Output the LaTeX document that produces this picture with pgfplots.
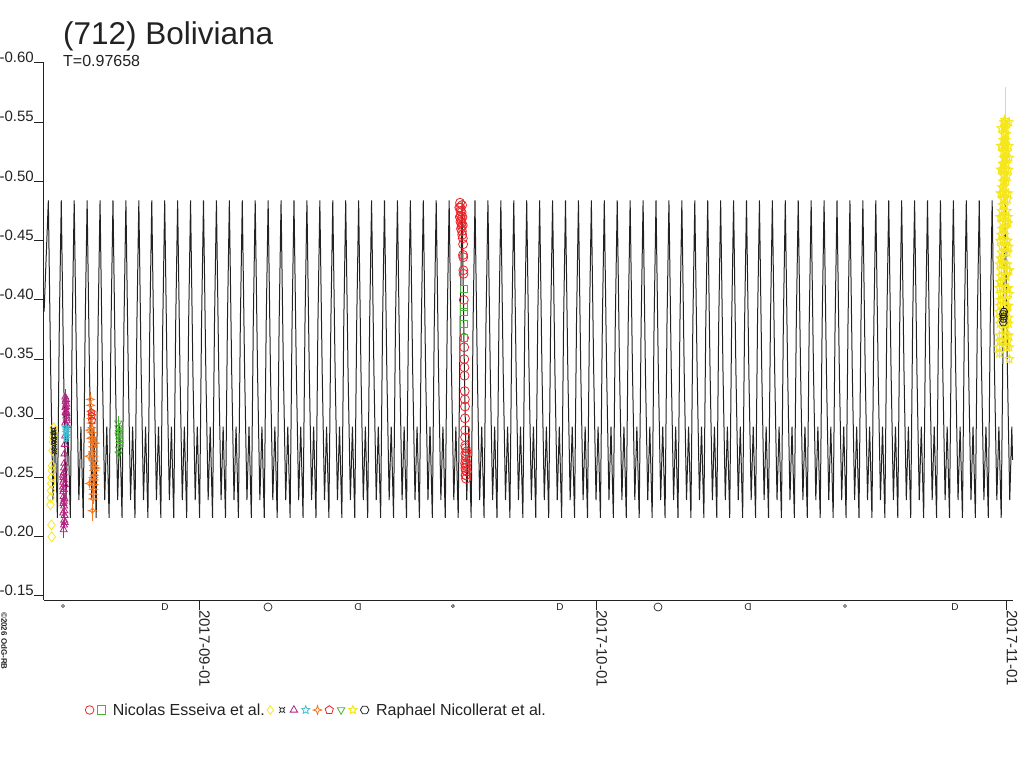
\documentclass[border=0pt]{standalone}
\usepackage{pgfplots}
\pgfplotsset{compat=1.18}
\usepackage{fontspec}
\setmainfont{Liberation Sans}
\usetikzlibrary{plotmarks}
\definecolor{cRed}{RGB}{236,36,40}
\definecolor{cGreen}{RGB}{76,178,56}
\definecolor{cYellow}{RGB}{246,230,30}
\definecolor{cMag}{RGB}{178,38,128}
\definecolor{cCyan}{RGB}{70,190,210}
\definecolor{cOrange}{RGB}{248,120,32}
\definecolor{cInk}{RGB}{34,34,34}
\pgfdeclareplotmark{fivestar}{%
  \pgfpathmoveto{\pgfpointpolar{90}{\pgfplotmarksize}}%
  \pgfpathlineto{\pgfpointpolar{126}{0.45\pgfplotmarksize}}%
  \pgfpathlineto{\pgfpointpolar{162}{\pgfplotmarksize}}%
  \pgfpathlineto{\pgfpointpolar{198}{0.45\pgfplotmarksize}}%
  \pgfpathlineto{\pgfpointpolar{234}{\pgfplotmarksize}}%
  \pgfpathlineto{\pgfpointpolar{270}{0.45\pgfplotmarksize}}%
  \pgfpathlineto{\pgfpointpolar{306}{\pgfplotmarksize}}%
  \pgfpathlineto{\pgfpointpolar{342}{0.45\pgfplotmarksize}}%
  \pgfpathlineto{\pgfpointpolar{18}{\pgfplotmarksize}}%
  \pgfpathlineto{\pgfpointpolar{54}{0.45\pgfplotmarksize}}%
  \pgfpathclose\pgfusepathqstroke}
\pgfdeclareplotmark{fourstar}{%
  \pgfpathmoveto{\pgfpointpolar{90}{\pgfplotmarksize}}%
  \pgfpathlineto{\pgfpointpolar{135}{0.35\pgfplotmarksize}}%
  \pgfpathlineto{\pgfpointpolar{180}{\pgfplotmarksize}}%
  \pgfpathlineto{\pgfpointpolar{225}{0.35\pgfplotmarksize}}%
  \pgfpathlineto{\pgfpointpolar{270}{\pgfplotmarksize}}%
  \pgfpathlineto{\pgfpointpolar{315}{0.35\pgfplotmarksize}}%
  \pgfpathlineto{\pgfpointpolar{0}{\pgfplotmarksize}}%
  \pgfpathlineto{\pgfpointpolar{45}{0.35\pgfplotmarksize}}%
  \pgfpathclose\pgfusepathqstroke}
\pgfdeclareplotmark{hexagon}{%
  \pgfpathmoveto{\pgfpointpolar{0}{\pgfplotmarksize}}%
  \pgfpathlineto{\pgfpointpolar{60}{\pgfplotmarksize}}%
  \pgfpathlineto{\pgfpointpolar{120}{\pgfplotmarksize}}%
  \pgfpathlineto{\pgfpointpolar{180}{\pgfplotmarksize}}%
  \pgfpathlineto{\pgfpointpolar{240}{\pgfplotmarksize}}%
  \pgfpathlineto{\pgfpointpolar{300}{\pgfplotmarksize}}%
  \pgfpathclose\pgfusepathqstroke}
\pgfdeclareplotmark{currency}{%
  \pgfpathcircle{\pgfpointorigin}{0.5\pgfplotmarksize}%
  \pgfpathmoveto{\pgfpointpolar{45}{0.5\pgfplotmarksize}}\pgfpathlineto{\pgfpointpolar{45}{\pgfplotmarksize}}%
  \pgfpathmoveto{\pgfpointpolar{135}{0.5\pgfplotmarksize}}\pgfpathlineto{\pgfpointpolar{135}{\pgfplotmarksize}}%
  \pgfpathmoveto{\pgfpointpolar{225}{0.5\pgfplotmarksize}}\pgfpathlineto{\pgfpointpolar{225}{\pgfplotmarksize}}%
  \pgfpathmoveto{\pgfpointpolar{315}{0.5\pgfplotmarksize}}\pgfpathlineto{\pgfpointpolar{315}{\pgfplotmarksize}}%
  \pgfusepathqstroke}
\begin{document}
\begin{tikzpicture}
\path[use as bounding box] (0pt,0pt) rectangle (1024pt,768pt);
\node[anchor=base west, inner sep=0pt, font=\fontsize{31.5}{31.5}\selectfont, text=cInk] at (63pt,723pt) {(712) Boliviana};
\node[anchor=base west, inner sep=0pt, font=\fontsize{16}{16}\selectfont, text=cInk] at (63pt,701pt) {T=0.97658};
\node[rotate=-90, anchor=south west, inner sep=0pt, font=\fontsize{8}{8}\selectfont\bfseries, text=cInk] at (1pt,156pt) {©2026 OdG-RB};
\begin{axis}[
  at={(44pt,168pt)}, anchor=south west,
  scale only axis, width=969pt, height=537pt,
  xmin=-11.708, xmax=61.485, ymin=-0.600, ymax=-0.1466, y dir=reverse,
  axis x line*=bottom, axis y line*=left,
  xtick={0,30,61}, xticklabels={2017-09-01,2017-10-01,2017-11-01},
  ytick={-0.6,-0.55,-0.5,-0.45,-0.4,-0.35,-0.3,-0.25,-0.2,-0.15},
  yticklabels={-0.60,-0.55,-0.50,-0.45,-0.40,-0.35,-0.30,-0.25,-0.20,-0.15},
  tick align=outside, major tick length=10pt, minor tick num=0,
  xticklabel style={rotate=-90, anchor=south west, inner sep=0pt, font=\fontsize{15}{15}\selectfont, text=cInk},
  yticklabel style={anchor=south east, inner sep=0pt, font=\fontsize{15}{15}\selectfont, text=cInk},
  axis line style={cInk, line width=1pt}, tick style={cInk, line width=1pt},
  clip=false,
  legend style={at={(0.0413,-0.2048)}, anchor=west, draw=none, fill=none,
    legend columns=-1, font=\fontsize{16}{16}\selectfont, text=cInk,
    inner xsep=0pt, inner ysep=0pt, nodes={inner sep=0pt},
    /tikz/column sep=0pt},
  legend image code/.code={\path (-5.2pt,0pt) (5.2pt,0pt); \draw[#1, mark size=4.3pt] plot coordinates {(0pt,0pt)};},
  error bars/error bar style={line width=0.7pt},
  error bars/error mark=none,
]
% Nicolas Esseiva et al.
\addplot[only marks, mark=o, mark size=4.5pt, cRed, mark options={line width=0.8pt}] coordinates {
(19.66,-0.478) (19.70,-0.470) (19.72,-0.482) (19.74,-0.478) (19.76,-0.475) (19.78,-0.471) (19.80,-0.468)
(19.82,-0.465) (19.84,-0.462) (19.86,-0.458) (19.88,-0.455) (19.75,-0.466) (19.79,-0.460) (19.83,-0.474)
(19.87,-0.480) (19.90,-0.470) (19.92,-0.463) (19.93,-0.452) (19.95,-0.447) (19.94,-0.438) (19.96,-0.436)
(19.97,-0.425) (19.98,-0.422) (20.00,-0.400) (20.02,-0.368) (20.03,-0.360) (20.04,-0.350) (20.05,-0.343)
(20.06,-0.336) (20.07,-0.323) (20.08,-0.316) (20.09,-0.300) (20.10,-0.284) (20.11,-0.277) (20.12,-0.270)
(20.13,-0.265) (20.14,-0.260) (20.15,-0.256) (20.16,-0.252) (20.17,-0.249) (20.12,-0.258) (20.14,-0.275)
(20.10,-0.262) (20.16,-0.268) (20.13,-0.252) (20.11,-0.290) (20.09,-0.310) (20.22,-0.262) (20.24,-0.255)
(20.20,-0.272)
};
\addlegendentry{}
\addplot[only marks, mark=square, mark size=3.4pt, cGreen, mark options={line width=0.8pt}] coordinates {
(19.98,-0.409) (20.00,-0.394) (20.01,-0.390) (20.03,-0.380) (20.05,-0.368)
};
\addlegendentry{\hspace{6pt}Nicolas Esseiva et al.}
% Raphael Nicollerat et al.
\addplot[only marks, mark=diamond, mark size=5pt, cYellow, mark options={line width=0.8pt}] coordinates {
(-10.98,-0.292) (-11.00,-0.288) (-11.02,-0.284) (-11.04,-0.280) (-11.06,-0.273) (-11.10,-0.260)
(-11.12,-0.256) (-11.14,-0.250) (-11.16,-0.245) (-11.18,-0.239) (-11.20,-0.233) (-11.22,-0.227)
(-11.15,-0.210) (-11.13,-0.200)
};
\addlegendentry{}
\addplot[only marks, mark=currency, mark size=3.8pt, cInk, mark options={line width=0.8pt}] coordinates {
(-11.00,-0.290) (-10.98,-0.285) (-10.96,-0.280) (-10.94,-0.276) (-10.92,-0.272) (-10.97,-0.288) (-10.93,-0.282)
};
\addlegendentry{}
\addplot[only marks, mark=triangle, mark size=4pt, cMag, mark options={line width=0.8pt},
  error bars/.cd, y dir=both, y explicit] coordinates {
(-10.10,-0.318) +- (0,0.007) (-10.08,-0.314) +- (0,0.003) (-10.06,-0.310) +- (0,0.003) (-10.04,-0.306) +- (0,0.003)
(-10.02,-0.302) +- (0,0.003) (-10.00,-0.298) +- (0,0.003) (-9.98,-0.294) +- (0,0.003) (-10.07,-0.305) +- (0,0.003)
(-10.03,-0.312) +- (0,0.003) (-9.99,-0.300) +- (0,0.003) (-10.12,-0.285) +- (0,0.003) (-10.14,-0.278) +- (0,0.003)
(-10.16,-0.270) +- (0,0.003) (-10.18,-0.262) +- (0,0.003) (-10.20,-0.258) +- (0,0.003) (-10.22,-0.254) +- (0,0.003)
(-10.24,-0.250) +- (0,0.003) (-10.26,-0.246) +- (0,0.003) (-10.28,-0.242) +- (0,0.003) (-10.25,-0.238) +- (0,0.003)
(-10.23,-0.234) +- (0,0.003) (-10.21,-0.230) +- (0,0.003) (-10.19,-0.226) +- (0,0.003) (-10.17,-0.222) +- (0,0.003)
(-10.15,-0.218) +- (0,0.003) (-10.18,-0.214) +- (0,0.003) (-10.20,-0.210) +- (0,0.003) (-10.22,-0.206) +- (0,0.007)
(-10.27,-0.252) +- (0,0.003) (-10.13,-0.244) +- (0,0.003) (-10.05,-0.316) +- (0,0.003) (-10.09,-0.309) +- (0,0.003)
(-10.01,-0.304) +- (0,0.003) (-10.11,-0.296) +- (0,0.003) (-10.24,-0.228) +- (0,0.003) (-10.16,-0.232) +- (0,0.003)
(-10.26,-0.220) +- (0,0.003) (-10.14,-0.212) +- (0,0.003) (-10.21,-0.240) +- (0,0.003) (-10.19,-0.248) +- (0,0.003)
};
\addlegendentry{}
\addplot[only marks, mark=fivestar, mark size=3.8pt, cCyan, mark options={line width=0.8pt},
  error bars/.cd, y dir=both, y fixed=0.004] coordinates {
(-10.05,-0.292) (-10.03,-0.288) (-10.01,-0.285) (-10.04,-0.283) (-10.02,-0.290)
};
\addlegendentry{}
\addplot[only marks, mark=fourstar, mark size=4pt, cOrange, mark options={line width=0.8pt},
  error bars/.cd, y dir=both, y explicit] coordinates {
(-8.20,-0.316) +- (0,0.006) (-8.18,-0.311) +- (0,0.004) (-8.16,-0.306) +- (0,0.004) (-8.14,-0.300) +- (0,0.004)
(-8.12,-0.296) +- (0,0.004) (-8.10,-0.292) +- (0,0.004) (-8.08,-0.288) +- (0,0.004) (-8.06,-0.284) +- (0,0.004)
(-8.04,-0.280) +- (0,0.004) (-8.02,-0.276) +- (0,0.004) (-8.00,-0.272) +- (0,0.004) (-7.98,-0.268) +- (0,0.004)
(-7.96,-0.264) +- (0,0.004) (-7.94,-0.260) +- (0,0.004) (-7.92,-0.256) +- (0,0.004) (-7.90,-0.252) +- (0,0.004)
(-7.92,-0.248) +- (0,0.004) (-7.94,-0.244) +- (0,0.004) (-7.96,-0.240) +- (0,0.004) (-7.98,-0.236) +- (0,0.004)
(-8.00,-0.232) +- (0,0.004) (-8.05,-0.222) +- (0,0.009) (-8.25,-0.290) +- (0,0.004) (-8.11,-0.303) +- (0,0.004)
(-7.85,-0.279) +- (0,0.004) (-8.30,-0.268) +- (0,0.004) (-7.80,-0.258) +- (0,0.004) (-8.13,-0.283) +- (0,0.004)
(-7.99,-0.250) +- (0,0.004) (-8.27,-0.245) +- (0,0.004)
};
\addlegendentry{}
\addplot[only marks, mark=pentagon, mark size=3.8pt, cRed, mark options={line width=0.8pt}] coordinates {
(-8.10,-0.302) (-8.08,-0.298) (-8.12,-0.305)
};
\addlegendentry{}
\addplot[only marks, mark=triangle, mark size=4pt, cGreen, mark options={line width=0.8pt, rotate=180},
  error bars/.cd, y dir=both, y fixed=0.006] coordinates {
(-6.10,-0.296) (-6.08,-0.292) (-6.06,-0.288) (-6.04,-0.284) (-6.02,-0.281) (-6.00,-0.278)
(-6.05,-0.274) (-6.07,-0.270) (-6.03,-0.290) (-6.09,-0.286)
};
\addlegendentry{}
\addplot[only marks, mark=fivestar, mark size=4.4pt, cYellow, mark options={line width=1pt},
  error bars/.cd, y dir=both, y explicit] coordinates {
(60.45,-0.355) +- (0,0.004) (60.47,-0.370) +- (0,0.004) (60.49,-0.380) +- (0,0.004) (60.51,-0.395) +- (0,0.004)
(60.53,-0.400) +- (0,0.004) (60.55,-0.415) +- (0,0.004) (60.57,-0.420) +- (0,0.004) (60.59,-0.435) +- (0,0.004)
(60.61,-0.440) +- (0,0.004) (60.63,-0.455) +- (0,0.004) (60.65,-0.460) +- (0,0.004) (60.67,-0.470) +- (0,0.004)
(60.69,-0.480) +- (0,0.004) (60.71,-0.490) +- (0,0.004) (60.73,-0.500) +- (0,0.004) (60.75,-0.505) +- (0,0.004)
(60.77,-0.515) +- (0,0.004) (60.79,-0.520) +- (0,0.004) (60.81,-0.530) +- (0,0.004) (60.83,-0.535) +- (0,0.004)
(60.85,-0.545) +- (0,0.004) (60.87,-0.550) +- (0,0.004) (60.89,-0.540) +- (0,0.004) (60.91,-0.530) +- (0,0.004)
(60.93,-0.520) +- (0,0.004) (60.95,-0.510) +- (0,0.004) (60.97,-0.500) +- (0,0.004) (60.99,-0.490) +- (0,0.004)
(61.01,-0.475) +- (0,0.004) (61.03,-0.465) +- (0,0.004) (61.05,-0.450) +- (0,0.004) (61.07,-0.440) +- (0,0.004)
(61.09,-0.425) +- (0,0.004) (61.11,-0.410) +- (0,0.004) (61.13,-0.395) +- (0,0.004) (61.15,-0.380) +- (0,0.004)
(61.17,-0.370) +- (0,0.004) (61.19,-0.360) +- (0,0.004) (61.21,-0.350) +- (0,0.004)
(60.80,-0.485) +- (0,0.004) (60.84,-0.455) +- (0,0.004) (60.88,-0.430) +- (0,0.004) (60.90,-0.410) +- (0,0.004)
(60.86,-0.390) +- (0,0.004) (60.82,-0.375) +- (0,0.004) (60.78,-0.460) +- (0,0.004) (60.92,-0.470) +- (0,0.004)
(60.96,-0.445) +- (0,0.004) (60.74,-0.430) +- (0,0.004) (60.70,-0.400) +- (0,0.004) (61.00,-0.420) +- (0,0.004)
(61.04,-0.395) +- (0,0.004) (60.68,-0.365) +- (0,0.004) (60.94,-0.545) +- (0,0.004) (60.76,-0.535) +- (0,0.004)
(60.86,-0.552) +- (0,0.004) (60.88,-0.530) +- (0,0.050)
(60.42,-0.360) +- (0,0.004) (60.44,-0.390) +- (0,0.004) (60.46,-0.410) +- (0,0.004) (60.48,-0.430) +- (0,0.004)
(60.50,-0.450) +- (0,0.004) (60.52,-0.470) +- (0,0.004) (60.54,-0.490) +- (0,0.004) (60.56,-0.510) +- (0,0.004)
(60.58,-0.530) +- (0,0.004) (60.60,-0.545) +- (0,0.004) (60.62,-0.530) +- (0,0.004) (60.64,-0.510) +- (0,0.004)
(60.66,-0.490) +- (0,0.004) (60.68,-0.470) +- (0,0.004) (60.70,-0.450) +- (0,0.004) (60.72,-0.470) +- (0,0.004)
(60.74,-0.490) +- (0,0.004) (60.76,-0.510) +- (0,0.004) (60.78,-0.530) +- (0,0.004) (60.80,-0.550) +- (0,0.004)
(60.82,-0.520) +- (0,0.004) (60.84,-0.500) +- (0,0.004) (60.86,-0.480) +- (0,0.004) (60.88,-0.460) +- (0,0.004)
(60.90,-0.440) +- (0,0.004) (60.92,-0.420) +- (0,0.004) (60.94,-0.400) +- (0,0.004) (60.96,-0.380) +- (0,0.004)
(60.98,-0.360) +- (0,0.004) (61.00,-0.370) +- (0,0.004) (61.02,-0.390) +- (0,0.004) (61.04,-0.410) +- (0,0.004)
(61.06,-0.430) +- (0,0.004) (61.08,-0.450) +- (0,0.004) (61.10,-0.470) +- (0,0.004) (61.12,-0.490) +- (0,0.004)
(61.14,-0.510) +- (0,0.004) (61.16,-0.530) +- (0,0.004) (61.18,-0.550) +- (0,0.004) (61.20,-0.520) +- (0,0.004)
(60.48,-0.365) +- (0,0.004) (60.52,-0.385) +- (0,0.004) (60.56,-0.405) +- (0,0.004) (60.60,-0.425) +- (0,0.004)
(60.64,-0.445) +- (0,0.004) (60.68,-0.465) +- (0,0.004) (60.72,-0.485) +- (0,0.004) (60.76,-0.495) +- (0,0.004)
(60.80,-0.505) +- (0,0.004) (60.84,-0.515) +- (0,0.004) (60.88,-0.525) +- (0,0.004) (60.92,-0.535) +- (0,0.004)
(60.96,-0.540) +- (0,0.004) (61.00,-0.525) +- (0,0.004) (61.04,-0.505) +- (0,0.004) (61.08,-0.485) +- (0,0.004)
(61.12,-0.465) +- (0,0.004) (61.16,-0.445) +- (0,0.004) (61.20,-0.425) +- (0,0.004) (61.18,-0.405) +- (0,0.004)
(61.14,-0.385) +- (0,0.004) (61.10,-0.365) +- (0,0.004) (60.50,-0.415) +- (0,0.004) (60.54,-0.435) +- (0,0.004)
(60.58,-0.455) +- (0,0.004) (60.62,-0.475) +- (0,0.004) (60.66,-0.495) +- (0,0.004) (60.70,-0.515) +- (0,0.004)
(60.74,-0.525) +- (0,0.004) (60.78,-0.540) +- (0,0.004) (60.90,-0.548) +- (0,0.004) (60.98,-0.515) +- (0,0.004)
};
\addlegendentry{}
\addplot[only marks, mark=hexagon, mark size=3.8pt, cInk, mark options={line width=0.8pt}] coordinates {
(60.74,-0.388) (60.76,-0.384) (60.78,-0.386) (60.80,-0.390) (60.75,-0.381)
};
\addlegendentry{\hspace{6pt}Raphael Nicollerat et al.}
% model lightcurve
\addplot[forget plot, cInk, line width=1pt, mark=none] coordinates {
(-11.700,-0.390)
(-11.380,-0.484) (-11.204,-0.34) (-11.028,-0.231) (-10.872,-0.293) (-10.696,-0.216) (-10.550,-0.38)
(-10.403,-0.484) (-10.227,-0.34) (-10.051,-0.231) (-9.895,-0.293) (-9.719,-0.216) (-9.573,-0.38)
(-9.427,-0.484) (-9.251,-0.34) (-9.075,-0.231) (-8.919,-0.293) (-8.743,-0.216) (-8.597,-0.38)
(-8.450,-0.484) (-8.274,-0.34) (-8.098,-0.231) (-7.942,-0.293) (-7.766,-0.216) (-7.620,-0.38)
(-7.474,-0.484) (-7.298,-0.34) (-7.122,-0.231) (-6.966,-0.293) (-6.790,-0.216) (-6.644,-0.38)
(-6.497,-0.484) (-6.321,-0.34) (-6.145,-0.231) (-5.989,-0.293) (-5.813,-0.216) (-5.667,-0.38)
(-5.521,-0.484) (-5.345,-0.34) (-5.169,-0.231) (-5.013,-0.293) (-4.837,-0.216) (-4.691,-0.38)
(-4.544,-0.484) (-4.368,-0.34) (-4.192,-0.231) (-4.036,-0.293) (-3.860,-0.216) (-3.714,-0.38)
(-3.567,-0.484) (-3.391,-0.34) (-3.215,-0.231) (-3.059,-0.293) (-2.883,-0.216) (-2.737,-0.38)
(-2.591,-0.484) (-2.415,-0.34) (-2.239,-0.231) (-2.083,-0.293) (-1.907,-0.216) (-1.761,-0.38)
(-1.614,-0.484) (-1.438,-0.34) (-1.262,-0.231) (-1.106,-0.293) (-0.930,-0.216) (-0.784,-0.38)
(-0.638,-0.484) (-0.462,-0.34) (-0.286,-0.231) (-0.130,-0.293) (0.046,-0.216) (0.192,-0.38)
(0.339,-0.484) (0.515,-0.34) (0.691,-0.231) (0.847,-0.293) (1.023,-0.216) (1.169,-0.38)
(1.316,-0.484) (1.492,-0.34) (1.668,-0.231) (1.824,-0.293) (2.000,-0.216) (2.146,-0.38)
(2.292,-0.484) (2.468,-0.34) (2.644,-0.231) (2.800,-0.293) (2.976,-0.216) (3.122,-0.38)
(3.269,-0.484) (3.445,-0.34) (3.621,-0.231) (3.777,-0.293) (3.953,-0.216) (4.099,-0.38)
(4.245,-0.484) (4.421,-0.34) (4.597,-0.231) (4.753,-0.293) (4.929,-0.216) (5.075,-0.38)
(5.222,-0.484) (5.398,-0.34) (5.574,-0.231) (5.730,-0.293) (5.906,-0.216) (6.052,-0.38)
(6.198,-0.484) (6.374,-0.34) (6.550,-0.231) (6.706,-0.293) (6.882,-0.216) (7.028,-0.38)
(7.175,-0.484) (7.351,-0.34) (7.527,-0.231) (7.683,-0.293) (7.859,-0.216) (8.005,-0.38)
(8.152,-0.484) (8.328,-0.34) (8.504,-0.231) (8.660,-0.293) (8.836,-0.216) (8.982,-0.38)
(9.128,-0.484) (9.304,-0.34) (9.480,-0.231) (9.636,-0.293) (9.812,-0.216) (9.958,-0.38)
(10.105,-0.484) (10.281,-0.34) (10.457,-0.231) (10.613,-0.293) (10.789,-0.216) (10.935,-0.38)
(11.081,-0.484) (11.257,-0.34) (11.433,-0.231) (11.589,-0.293) (11.765,-0.216) (11.911,-0.38)
(12.058,-0.484) (12.234,-0.34) (12.410,-0.231) (12.566,-0.293) (12.742,-0.216) (12.888,-0.38)
(13.035,-0.484) (13.211,-0.34) (13.387,-0.231) (13.543,-0.293) (13.719,-0.216) (13.865,-0.38)
(14.011,-0.484) (14.187,-0.34) (14.363,-0.231) (14.519,-0.293) (14.695,-0.216) (14.841,-0.38)
(14.988,-0.484) (15.164,-0.34) (15.340,-0.231) (15.496,-0.293) (15.672,-0.216) (15.818,-0.38)
(15.964,-0.484) (16.140,-0.34) (16.316,-0.231) (16.472,-0.293) (16.648,-0.216) (16.794,-0.38)
(16.941,-0.484) (17.117,-0.34) (17.293,-0.231) (17.449,-0.293) (17.625,-0.216) (17.771,-0.38)
(17.917,-0.484) (18.093,-0.34) (18.269,-0.231) (18.425,-0.293) (18.601,-0.216) (18.747,-0.38)
(18.894,-0.484) (19.070,-0.34) (19.246,-0.231) (19.402,-0.293) (19.578,-0.216) (19.724,-0.38)
(19.871,-0.484) (20.047,-0.34) (20.223,-0.231) (20.379,-0.293) (20.555,-0.216) (20.701,-0.38)
(20.847,-0.484) (21.023,-0.34) (21.199,-0.231) (21.355,-0.293) (21.531,-0.216) (21.677,-0.38)
(21.824,-0.484) (22.000,-0.34) (22.176,-0.231) (22.332,-0.293) (22.508,-0.216) (22.654,-0.38)
(22.800,-0.484) (22.976,-0.34) (23.152,-0.231) (23.308,-0.293) (23.484,-0.216) (23.630,-0.38)
(23.777,-0.484) (23.953,-0.34) (24.129,-0.231) (24.285,-0.293) (24.461,-0.216) (24.607,-0.38)
(24.753,-0.484) (24.929,-0.34) (25.105,-0.231) (25.261,-0.293) (25.437,-0.216) (25.583,-0.38)
(25.730,-0.484) (25.906,-0.34) (26.082,-0.231) (26.238,-0.293) (26.414,-0.216) (26.560,-0.38)
(26.707,-0.484) (26.883,-0.34) (27.059,-0.231) (27.215,-0.293) (27.391,-0.216) (27.537,-0.38)
(27.683,-0.484) (27.859,-0.34) (28.035,-0.231) (28.191,-0.293) (28.367,-0.216) (28.513,-0.38)
(28.660,-0.484) (28.836,-0.34) (29.012,-0.231) (29.168,-0.293) (29.344,-0.216) (29.490,-0.38)
(29.636,-0.484) (29.812,-0.34) (29.988,-0.231) (30.144,-0.293) (30.320,-0.216) (30.466,-0.38)
(30.613,-0.484) (30.789,-0.34) (30.965,-0.231) (31.121,-0.293) (31.297,-0.216) (31.443,-0.38)
(31.590,-0.484) (31.766,-0.34) (31.942,-0.231) (32.098,-0.293) (32.274,-0.216) (32.420,-0.38)
(32.566,-0.484) (32.742,-0.34) (32.918,-0.231) (33.074,-0.293) (33.250,-0.216) (33.396,-0.38)
(33.543,-0.484) (33.719,-0.34) (33.895,-0.231) (34.051,-0.293) (34.227,-0.216) (34.373,-0.38)
(34.519,-0.484) (34.695,-0.34) (34.871,-0.231) (35.027,-0.293) (35.203,-0.216) (35.349,-0.38)
(35.496,-0.484) (35.672,-0.34) (35.848,-0.231) (36.004,-0.293) (36.180,-0.216) (36.326,-0.38)
(36.472,-0.484) (36.648,-0.34) (36.824,-0.231) (36.980,-0.293) (37.156,-0.216) (37.302,-0.38)
(37.449,-0.484) (37.625,-0.34) (37.801,-0.231) (37.957,-0.293) (38.133,-0.216) (38.279,-0.38)
(38.426,-0.484) (38.602,-0.34) (38.778,-0.231) (38.934,-0.293) (39.110,-0.216) (39.256,-0.38)
(39.402,-0.484) (39.578,-0.34) (39.754,-0.231) (39.910,-0.293) (40.086,-0.216) (40.232,-0.38)
(40.379,-0.484) (40.555,-0.34) (40.731,-0.231) (40.887,-0.293) (41.063,-0.216) (41.209,-0.38)
(41.355,-0.484) (41.531,-0.34) (41.707,-0.231) (41.863,-0.293) (42.039,-0.216) (42.185,-0.38)
(42.332,-0.484) (42.508,-0.34) (42.684,-0.231) (42.840,-0.293) (43.016,-0.216) (43.162,-0.38)
(43.308,-0.484) (43.484,-0.34) (43.660,-0.231) (43.816,-0.293) (43.992,-0.216) (44.138,-0.38)
(44.285,-0.484) (44.461,-0.34) (44.637,-0.231) (44.793,-0.293) (44.969,-0.216) (45.115,-0.38)
(45.262,-0.484) (45.438,-0.34) (45.614,-0.231) (45.770,-0.293) (45.946,-0.216) (46.092,-0.38)
(46.238,-0.484) (46.414,-0.34) (46.590,-0.231) (46.746,-0.293) (46.922,-0.216) (47.068,-0.38)
(47.215,-0.484) (47.391,-0.34) (47.567,-0.231) (47.723,-0.293) (47.899,-0.216) (48.045,-0.38)
(48.191,-0.484) (48.367,-0.34) (48.543,-0.231) (48.699,-0.293) (48.875,-0.216) (49.021,-0.38)
(49.168,-0.484) (49.344,-0.34) (49.520,-0.231) (49.676,-0.293) (49.852,-0.216) (49.998,-0.38)
(50.145,-0.484) (50.321,-0.34) (50.497,-0.231) (50.653,-0.293) (50.829,-0.216) (50.975,-0.38)
(51.121,-0.484) (51.297,-0.34) (51.473,-0.231) (51.629,-0.293) (51.805,-0.216) (51.951,-0.38)
(52.098,-0.484) (52.274,-0.34) (52.450,-0.231) (52.606,-0.293) (52.782,-0.216) (52.928,-0.38)
(53.074,-0.484) (53.250,-0.34) (53.426,-0.231) (53.582,-0.293) (53.758,-0.216) (53.904,-0.38)
(54.051,-0.484) (54.227,-0.34) (54.403,-0.231) (54.559,-0.293) (54.735,-0.216) (54.881,-0.38)
(55.027,-0.484) (55.203,-0.34) (55.379,-0.231) (55.535,-0.293) (55.711,-0.216) (55.857,-0.38)
(56.004,-0.484) (56.180,-0.34) (56.356,-0.231) (56.512,-0.293) (56.688,-0.216) (56.834,-0.38)
(56.981,-0.484) (57.157,-0.34) (57.333,-0.231) (57.489,-0.293) (57.665,-0.216) (57.811,-0.38)
(57.957,-0.484) (58.133,-0.34) (58.309,-0.231) (58.465,-0.293) (58.641,-0.216) (58.787,-0.38)
(58.934,-0.484) (59.110,-0.34) (59.286,-0.231) (59.442,-0.293) (59.618,-0.216) (59.764,-0.38)
(59.910,-0.484) (60.086,-0.34) (60.262,-0.231) (60.418,-0.293) (60.594,-0.216) (60.740,-0.38)
(60.887,-0.484) (61.063,-0.34) (61.239,-0.231) (61.395,-0.293) (61.450,-0.265)
};
% moon phases
\node[circle, draw=cInk, line width=0.6pt, inner sep=0pt, minimum size=3pt] at (axis cs:-10.27,-0.1466) [yshift=-6pt] {};
\node[circle, draw=cInk, line width=0.6pt, inner sep=0pt, minimum size=3pt] at (axis cs:19.18,-0.1466) [yshift=-6pt] {};
\node[circle, draw=cInk, line width=0.6pt, inner sep=0pt, minimum size=3pt] at (axis cs:48.79,-0.1466) [yshift=-6pt] {};
\node[circle, draw=cInk, line width=0.7pt, inner sep=0pt, minimum size=8pt] at (axis cs:5.21,-0.1466) [yshift=-7pt] {};
\node[circle, draw=cInk, line width=0.7pt, inner sep=0pt, minimum size=8pt] at (axis cs:34.67,-0.1466) [yshift=-7pt] {};
\node[inner sep=0pt, font=\fontsize{10}{10}\selectfont, text=cInk] at (axis cs:-2.57,-0.1466) [yshift=-7pt] {D};
\node[inner sep=0pt, font=\fontsize{10}{10}\selectfont, text=cInk] at (axis cs:27.27,-0.1466) [yshift=-7pt] {D};
\node[inner sep=0pt, font=\fontsize{10}{10}\selectfont, text=cInk] at (axis cs:57.10,-0.1466) [yshift=-7pt] {D};
\node[inner sep=0pt, font=\fontsize{10}{10}\selectfont, text=cInk] at (axis cs:12.01,-0.1466) [yshift=-7pt] {\reflectbox{D}};
\node[inner sep=0pt, font=\fontsize{10}{10}\selectfont, text=cInk] at (axis cs:41.47,-0.1466) [yshift=-7pt] {\reflectbox{D}};
\end{axis}
\end{tikzpicture}
\end{document}
